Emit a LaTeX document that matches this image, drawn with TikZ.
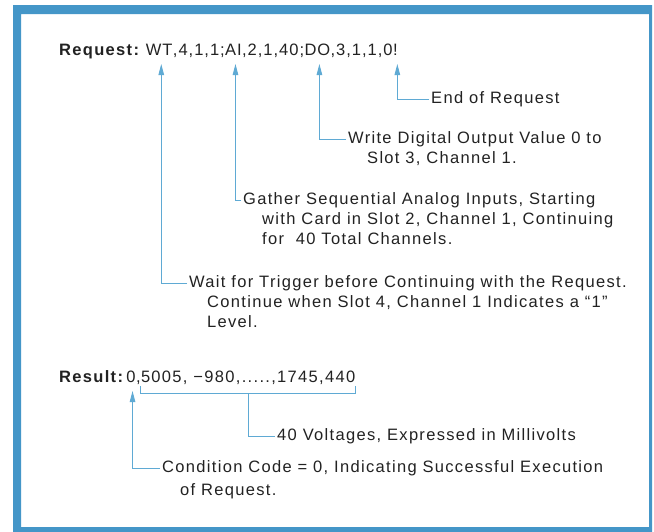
\documentclass[tikz,border=0pt]{standalone}
\usepackage{fontspec}
\setmainfont{Liberation Sans}[LetterSpace=8]
\usetikzlibrary{arrows.meta}
\definecolor{frameblue}{RGB}{68,150,200}
\definecolor{lineblue}{RGB}{95,170,212}
\definecolor{inkgray}{RGB}{34,34,34}
\begin{document}
\begin{tikzpicture}[x=1pt,y=-1pt,
  txt/.style={inner sep=0pt, anchor=base west, text=inkgray, font=\fontsize{16.5}{19}\selectfont},
  reqtxt/.style={txt, font=\fontsize{16.5}{19}\selectfont\addfontfeatures{LetterSpace=6}},
  hdr/.style={txt, font=\fontsize{16.5}{19}\selectfont\bfseries},
  conn/.style={draw=lineblue, line width=0.9pt},
  arr/.style={conn, -{Triangle[length=11pt,width=5.5pt]}}]
\useasboundingbox (0,0) rectangle (654,531);
\fill[white] (0,0) rectangle (654,531);
\fill[frameblue, even odd rule] (13,5) rectangle (652,532) (21,14) rectangle (649,527);
% request line
\node[hdr] (req) at (59,55) {Request:};
\node[reqtxt] (wt) at ([xshift=6.5pt]req.base east) {WT};
\node[reqtxt] (p1) at (wt.base east) {,4,1,1;};
\node[reqtxt] (ai) at (p1.base east) {AI};
\node[reqtxt] (p2) at (ai.base east) {,2,1,40;};
\node[reqtxt] (do) at (p2.base east) {DO};
\node[reqtxt] (p3) at (do.base east) {,3,1,1,0};
\node[reqtxt] (ex) at (p3.base east) {!};
% labels
\node[txt] (eor) at (431,103) {End of Request};
\node[txt] (do1) at (348,143) {Write Digital Output Value 0 to};
\node[txt] (do2) at (367,163) {Slot 3, Channel 1.};
\node[txt] (ai1) at (243,204) {Gather Sequential Analog Inputs, Starting};
\node[txt] (ai2) at (262,224) {with Card in Slot 2, Channel 1, Continuing};
\node[txt] (ai3) at (262,244) {for\ \ 40 Total Channels.};
\node[txt] (wt1) at (189,287) {Wait for Trigger before Continuing with the Request.};
\node[txt] (wt2) at (207,307) {Continue when Slot 4, Channel 1 Indicates a “1”};
\node[txt] (wt3) at (207,327) {Level.};
% connectors
\draw[arr] ([xshift=-2pt,yshift=4pt]eor.base west) -| ([xshift=2pt,yshift=-9pt]ex.base);
\draw[arr] ([xshift=-2pt,yshift=4pt]do1.base west) -| ([xshift=2pt,yshift=-9pt]do.base);
\draw[arr] ([xshift=-2pt,yshift=4pt]ai1.base west) -| ([xshift=2pt,yshift=-9pt]ai.base);
\draw[arr] ([xshift=-2pt,yshift=4pt]wt1.base west) -| ([xshift=2pt,yshift=-9pt]wt.base);
% result line
\node[hdr] (res) at (59,382) {Result:};
\node[txt] (r0) at ([xshift=3pt]res.base east) {0};
\node[txt] (rc) at (r0.base east) {,};
\node[txt] (rv) at (rc.base east) {5005, −980,.....,1745,440};
\draw[conn] ([yshift=-4pt]rv.base west) -- ([yshift=-11pt]rv.base west) -- ([yshift=-11pt]rv.base east) -- ([yshift=-4pt]rv.base east);
\node[txt] (v40) at (277,440) {40 Voltages, Expressed in Millivolts};
\draw[conn] ([yshift=-11pt]rv.base) |- ([xshift=-2pt,yshift=4pt]v40.base west);
\node[txt] (cc1) at (162,472) {Condition Code = 0, Indicating Successful Execution};
\node[txt] (cc2) at (180,495) {of Request.};
\draw[arr] ([xshift=-2pt,yshift=4pt]cc1.base west) -| ([xshift=1.5pt,yshift=-9pt]r0.base);
\end{tikzpicture}
\end{document}
